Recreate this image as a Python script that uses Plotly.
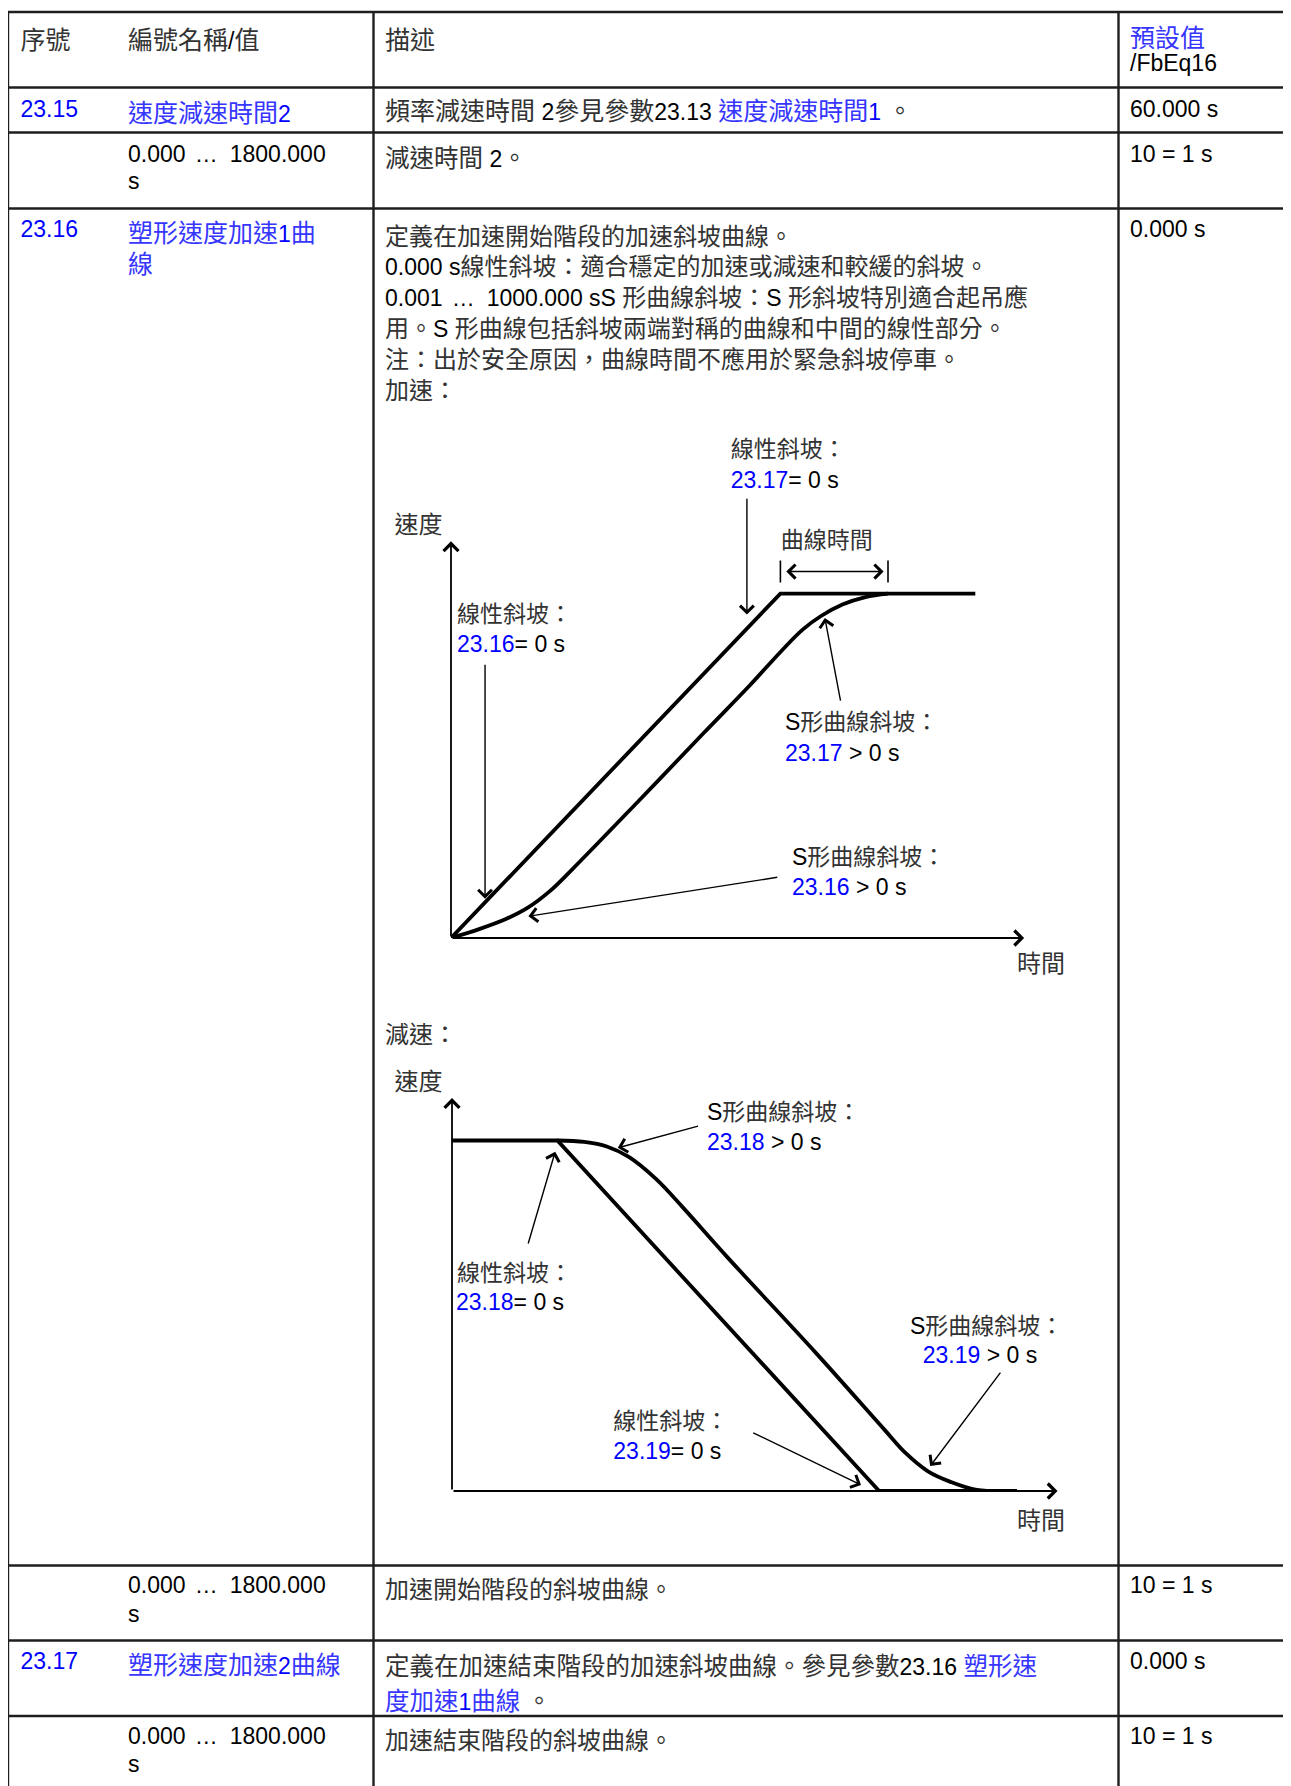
import re
import plotly.graph_objects as go

W, H = 1291, 1786

# ---------------- table content ----------------
header_labels = ["序號", "編號名稱/值", "描述"]
header_default = ["預設值", "/FbEq16"]
param_ids = ["23.15", "23.16", "23.17"]
param_names = [["速度減速時間2"], ["塑形速度加速1曲", "線"], ["塑形速度加速2曲線"]]
range_text = ["0.000 … 1800.000", "s"]
default_values = ["60.000 s", "10 = 1 s", "0.000 s", "10 = 1 s", "0.000 s", "10 = 1 s"]
desc_2315 = [("頻率減速時間 2參見參數23.13 ", "k"), ("速度減速時間1", "b"), (" 。", "k")]
desc_2315_range = "減速時間 2。"
desc_2316 = [
    "定義在加速開始階段的加速斜坡曲線。",
    "0.000 s線性斜坡：適合穩定的加速或減速和較緩的斜坡。",
    "0.001 … 1000.000 sS 形曲線斜坡：S 形斜坡特別適合起吊應",
    "用。S 形曲線包括斜坡兩端對稱的曲線和中間的線性部分。",
    "注：出於安全原因，曲線時間不應用於緊急斜坡停車。",
    "加速：",
]
desc_2316_range = "加速開始階段的斜坡曲線。"
desc_2316_decel = "減速："
desc_2317 = [
    [("定義在加速結束階段的加速斜坡曲線。參見參數23.16 ", "k"), ("塑形速", "b")],
    [("度加速1曲線", "b"), (" 。", "k")],
]
desc_2317_range = "加速結束階段的斜坡曲線。"

# ---------------- acceleration diagram (time, speed %) ----------------
acc_linear_t = [0, 6.0, 9.55]
acc_linear_v = [0, 100, 100]
acc_s_t = [0, 0.5, 1.0, 1.4, 1.8, 2.2, 3.4, 4.62, 5.44, 6.01, 6.41, 6.74, 7.14, 7.55, 7.96]
acc_s_v = [0, 2.5, 5.5, 8.8, 13.6, 19.8, 39.5, 59.8, 73.3, 83.2, 89.6, 93.5, 96.9, 99.0, 100]
acc_axis_label = ["速度", "時間"]
acc_bracket_label = "曲線時間"
acc_bracket_t = [6.0, 7.96]
acc_notes = [
    ["線性斜坡：", ("23.17", "= 0 s")],
    ["線性斜坡：", ("23.16", "= 0 s")],
    ["S形曲線斜坡：", ("23.17", " > 0 s")],
    ["S形曲線斜坡：", ("23.16", " > 0 s")],
]

# ---------------- deceleration diagram (time, speed %) ----------------
dec_linear_t = [0, 1.92, 7.78, 10.29]
dec_linear_v = [100, 100, 0, 0]
dec_s_t = [1.92, 2.41, 2.82, 3.22, 3.71, 4.20, 5.01, 6.64, 7.86, 8.27, 8.67, 9.08, 9.56, 10.29]
dec_s_v = [100, 99.6, 98.3, 95.3, 89.1, 81.0, 66.8, 39.2, 17.8, 10.7, 5.6, 2.6, 0.3, 0]
dec_axis_label = ["速度", "時間"]
dec_notes = [
    ["S形曲線斜坡：", ("23.18", " > 0 s")],
    ["線性斜坡：", ("23.18", "= 0 s")],
    ["S形曲線斜坡：", ("23.19", " > 0 s")],
    ["線性斜坡：", ("23.19", "= 0 s")],
]

# ---------------- styling helpers ----------------
FONT = "Liberation Sans, Arial, Noto Sans CJK TC"
COLORS = {"k": ("#000000", "#333333"), "b": ("#0000ff", "#3636ff")}
CJK_RE = re.compile(r"([\u2E80-\u9FFF\u3000-\u303F\uFF00-\uFFEF]+)")
ELL_RE = re.compile(r"( … )")


def rich(segments, cjk_size):
    if isinstance(segments, str):
        segments = [(segments, "k")]
    out = []
    for txt, col in segments:
        lat, cjk = COLORS[col]
        for part in CJK_RE.split(txt):
            if not part:
                continue
            if CJK_RE.fullmatch(part):
                out.append(f'<span style="font-size:{cjk_size}px;fill:{cjk}">{part}</span>')
            else:
                for sub in ELL_RE.split(part):
                    if not sub:
                        continue
                    if sub == " … ":
                        out.append(f'<span style="fill:{lat};letter-spacing:2.8px">{sub}</span>')
                    else:
                        out.append(f'<span style="fill:{lat}">{sub}</span>')
    return "".join(out)


items = []  # (x, baseline, segments, latin size, cjk size)
TL = 23
TN, TD = 25, 24  # CJK sizes: name column / description column
COL_X = [20.5, 128, 385, 1130]

# header
for x, lab in zip(COL_X[:3], header_labels):
    items.append((x, 48.5, lab, TL, TN))
items.append((COL_X[3], 47, [(header_default[0], "b")], TL, TN))
items.append((COL_X[3], 71, header_default[1], TL, TN))

# 23.15
items.append((COL_X[0], 117, [(param_ids[0], "b")], TL, TN))
items.append((COL_X[1], 121.5, [(param_names[0][0], "b")], TL, TN))
items.append((COL_X[2], 120, desc_2315, TL, 25))
items.append((COL_X[3], 117, default_values[0], TL, TN))
items.append((COL_X[1], 162, range_text[0], TL, TN))
items.append((COL_X[1], 188.5, range_text[1], TL, TN))
items.append((COL_X[2], 166.5, desc_2315_range, TL, 24.5))
items.append((COL_X[3], 162, default_values[1], TL, TN))

# 23.16
items.append((COL_X[0], 237, [(param_ids[1], "b")], TL, TN))
items.append((COL_X[1], 241.5, [(param_names[1][0], "b")], TL, TN))
items.append((COL_X[1], 273, [(param_names[1][1], "b")], TL, TN))
for i, line in enumerate(desc_2316):
    items.append((COL_X[2], 244.5 + 30.8 * i, line, TL, TD))
items.append((COL_X[3], 237, default_values[2], TL, TN))
items.append((COL_X[2], 1042.5, desc_2316_decel, TL, TD))
items.append((COL_X[1], 1593.3, range_text[0], TL, TN))
items.append((COL_X[1], 1621.7, range_text[1], TL, TN))
items.append((COL_X[2], 1598, desc_2316_range, TL, TD))
items.append((COL_X[3], 1593.3, default_values[3], TL, TN))

# 23.17
items.append((COL_X[0], 1669.3, [(param_ids[2], "b")], TL, TN))
items.append((COL_X[1], 1674, [(param_names[2][0], "b")], TL, TN))
items.append((COL_X[2], 1675, desc_2317[0], TL, 24.5))
items.append((COL_X[2], 1710, desc_2317[1], TL, 24.5))
items.append((COL_X[3], 1669.3, default_values[4], TL, TN))
items.append((COL_X[1], 1743.5, range_text[0], TL, TN))
items.append((COL_X[1], 1771.7, range_text[1], TL, TN))
items.append((COL_X[2], 1748.5, desc_2317_range, TL, TD))
items.append((COL_X[3], 1744, default_values[5], TL, TN))

# diagram labels
DL, DC = 23, 23
acc_note_pos = [(730.7, 457.2, 488), (457, 621.5, 652), (785, 730, 761), (792, 864.5, 895)]
for (x, b1, b2), (l1, (num, rest)) in zip(acc_note_pos, acc_notes):
    items.append((x, b1, l1, DL, DC))
    items.append((x, b2, [(num, "b"), (rest, "k")], DL, DC))
items.append((394.5, 532.7, acc_axis_label[0], 24, 24))
items.append((1017, 972, acc_axis_label[1], 24, 24))
items.append((780.7, 548.3, acc_bracket_label, DL, DC))

dec_note_pos = [(707, 1119.5, 1150, 707), (457, 1281, 1310, 456), (910, 1334, 1362.5, 922.7), (613.3, 1429, 1459, 613.3)]
for (x, b1, b2, x2), (l1, (num, rest)) in zip(dec_note_pos, dec_notes):
    items.append((x, b1, l1, DL, DC))
    items.append((x2, b2, [(num, "b"), (rest, "k")], DL, DC))
items.append((394.5, 1090, dec_axis_label[0], 24, 24))
items.append((1017, 1529, dec_axis_label[1], 24, 24))

fig = go.Figure()

# text traces grouped by latin font size
groups = {}
for x, b, seg, fl, fc in items:
    groups.setdefault(fl, []).append((x, b, rich(seg, fc)))
for fl, lst in groups.items():
    fig.add_trace(go.Scatter(
        x=[v[0] for v in lst], y=[v[1] - 0.25 * fl for v in lst],
        text=[v[2] for v in lst], mode="text", textposition="middle right",
        textfont=dict(family=FONT, size=fl, color="#000"),
        hoverinfo="skip", showlegend=False, cliponaxis=False, xaxis="x", yaxis="y"))

# diagram curves
LW = 3.8
fig.add_trace(go.Scatter(x=acc_linear_t, y=acc_linear_v, mode="lines", line=dict(color="#000", width=LW),
                         xaxis="x2", yaxis="y2", showlegend=False, hoverinfo="skip", cliponaxis=False))
fig.add_trace(go.Scatter(x=acc_s_t, y=acc_s_v, mode="lines", line=dict(color="#000", width=LW, shape="spline", smoothing=1.0),
                         xaxis="x2", yaxis="y2", showlegend=False, hoverinfo="skip", cliponaxis=False))
fig.add_trace(go.Scatter(x=dec_linear_t, y=dec_linear_v, mode="lines", line=dict(color="#000", width=LW),
                         xaxis="x3", yaxis="y3", showlegend=False, hoverinfo="skip", cliponaxis=False))
fig.add_trace(go.Scatter(x=dec_s_t, y=dec_s_v, mode="lines", line=dict(color="#000", width=LW, shape="spline", smoothing=1.0),
                         xaxis="x3", yaxis="y3", showlegend=False, hoverinfo="skip", cliponaxis=False))

# table lines
H_LINES = [12, 87.5, 132.5, 208.5, 1565.5, 1640.5, 1716]
V_LINES = [8, 373.5, 1118.5]
OFF = 8  # page margin of the html body
shapes = []
for y in H_LINES:
    shapes.append(dict(type="line", xref="x", yref="y", x0=V_LINES[0], x1=W + OFF, y0=y, y1=y,
                       line=dict(color="#1e1e1e", width=2.4)))
for x in V_LINES:
    shapes.append(dict(type="line", xref="x", yref="y", x0=x, x1=x, y0=H_LINES[0], y1=H + OFF,
                       line=dict(color="#1e1e1e", width=2.4)))
# bracket ticks (curve time)
for t in acc_bracket_t:
    shapes.append(dict(type="line", xref="x2", yref="y2", x0=t, x1=t, y0=103.2, y1=109.6, line=dict(color="#000", width=1.6)))

annotations = []


def arrow(xr, yr, tail, head, width=1.4, size=1.9, side="end"):
    annotations.append(dict(xref=xr, yref=yr, axref=xr, ayref=yr, x=head[0], y=head[1], ax=tail[0], ay=tail[1],
                            text="", showarrow=True, arrowhead=4, arrowsize=size, arrowwidth=width,
                            arrowcolor="#000", arrowside=side, startarrowhead=4, startarrowsize=size))


# acceleration axes and pointers
arrow("x2", "y2", (0, 0), (0, 115.2), width=1.8, size=1.6)
arrow("x2", "y2", (0, 0), (10.44, 0), width=1.8, size=1.6)
arrow("x2", "y2", (6.08, 106.4), (7.88, 106.4), width=1.6, size=1.7, side="end+start")
arrow("x2", "y2", (5.39, 128.0), (5.39, 93.9))
arrow("x2", "y2", (0.62, 79.8), (0.62, 11.4))
arrow("x2", "y2", (7.10, 68.5), (6.81, 92.9))
arrow("x2", "y2", (5.97, 17.7), (1.41, 6.3))
# deceleration axes and pointers
arrow("x3", "y3", (0, 0), (0, 112.1), width=1.8, size=1.6)
arrow("x3", "y3", (0, 0), (11.03, 0), width=1.8, size=1.6)
arrow("x3", "y3", (4.51, 104.2), (3.02, 97.9))
arrow("x3", "y3", (1.38, 70.2), (1.88, 96.8))
arrow("x3", "y3", (10.01, 34.2), (8.71, 7.1))
arrow("x3", "y3", (5.46, 16.8), (7.45, 1.7))

# axis placement (pixel frame of the page)
PX_T = 54.9
acc_o, acc_vs = (451, 938), 3.444
dec_o, dec_vs = (452, 1491), 3.505
acc_rx, acc_ry = 10.5, 116
dec_rx, dec_ry = 11.1, 113


def xdom(px0, span):
    return [(px0 - OFF) / W, (px0 - OFF + span) / W]


def ydom(py0, span):
    return [(H - (py0 - OFF)) / H, (H - (py0 - OFF) + span) / H]


hidden = dict(visible=False, showgrid=False, zeroline=False, fixedrange=True)
fig.update_layout(
    width=W, height=H, margin=dict(l=0, r=0, t=0, b=0),
    paper_bgcolor="white", plot_bgcolor="rgba(0,0,0,0)",
    xaxis=dict(domain=[0, 1], range=[OFF, W + OFF], **hidden),
    yaxis=dict(domain=[0, 1], range=[H + OFF, OFF], **hidden),
    xaxis2=dict(domain=xdom(acc_o[0], acc_rx * PX_T), range=[0, acc_rx], anchor="y2", **hidden),
    yaxis2=dict(domain=ydom(acc_o[1], acc_ry * acc_vs), range=[0, acc_ry], anchor="x2", **hidden),
    xaxis3=dict(domain=xdom(dec_o[0], dec_rx * PX_T), range=[0, dec_rx], anchor="y3", **hidden),
    yaxis3=dict(domain=ydom(dec_o[1], dec_ry * dec_vs), range=[0, dec_ry], anchor="x3", **hidden),
    shapes=shapes, annotations=annotations, showlegend=False,
)

fig.write_html("out.html")
